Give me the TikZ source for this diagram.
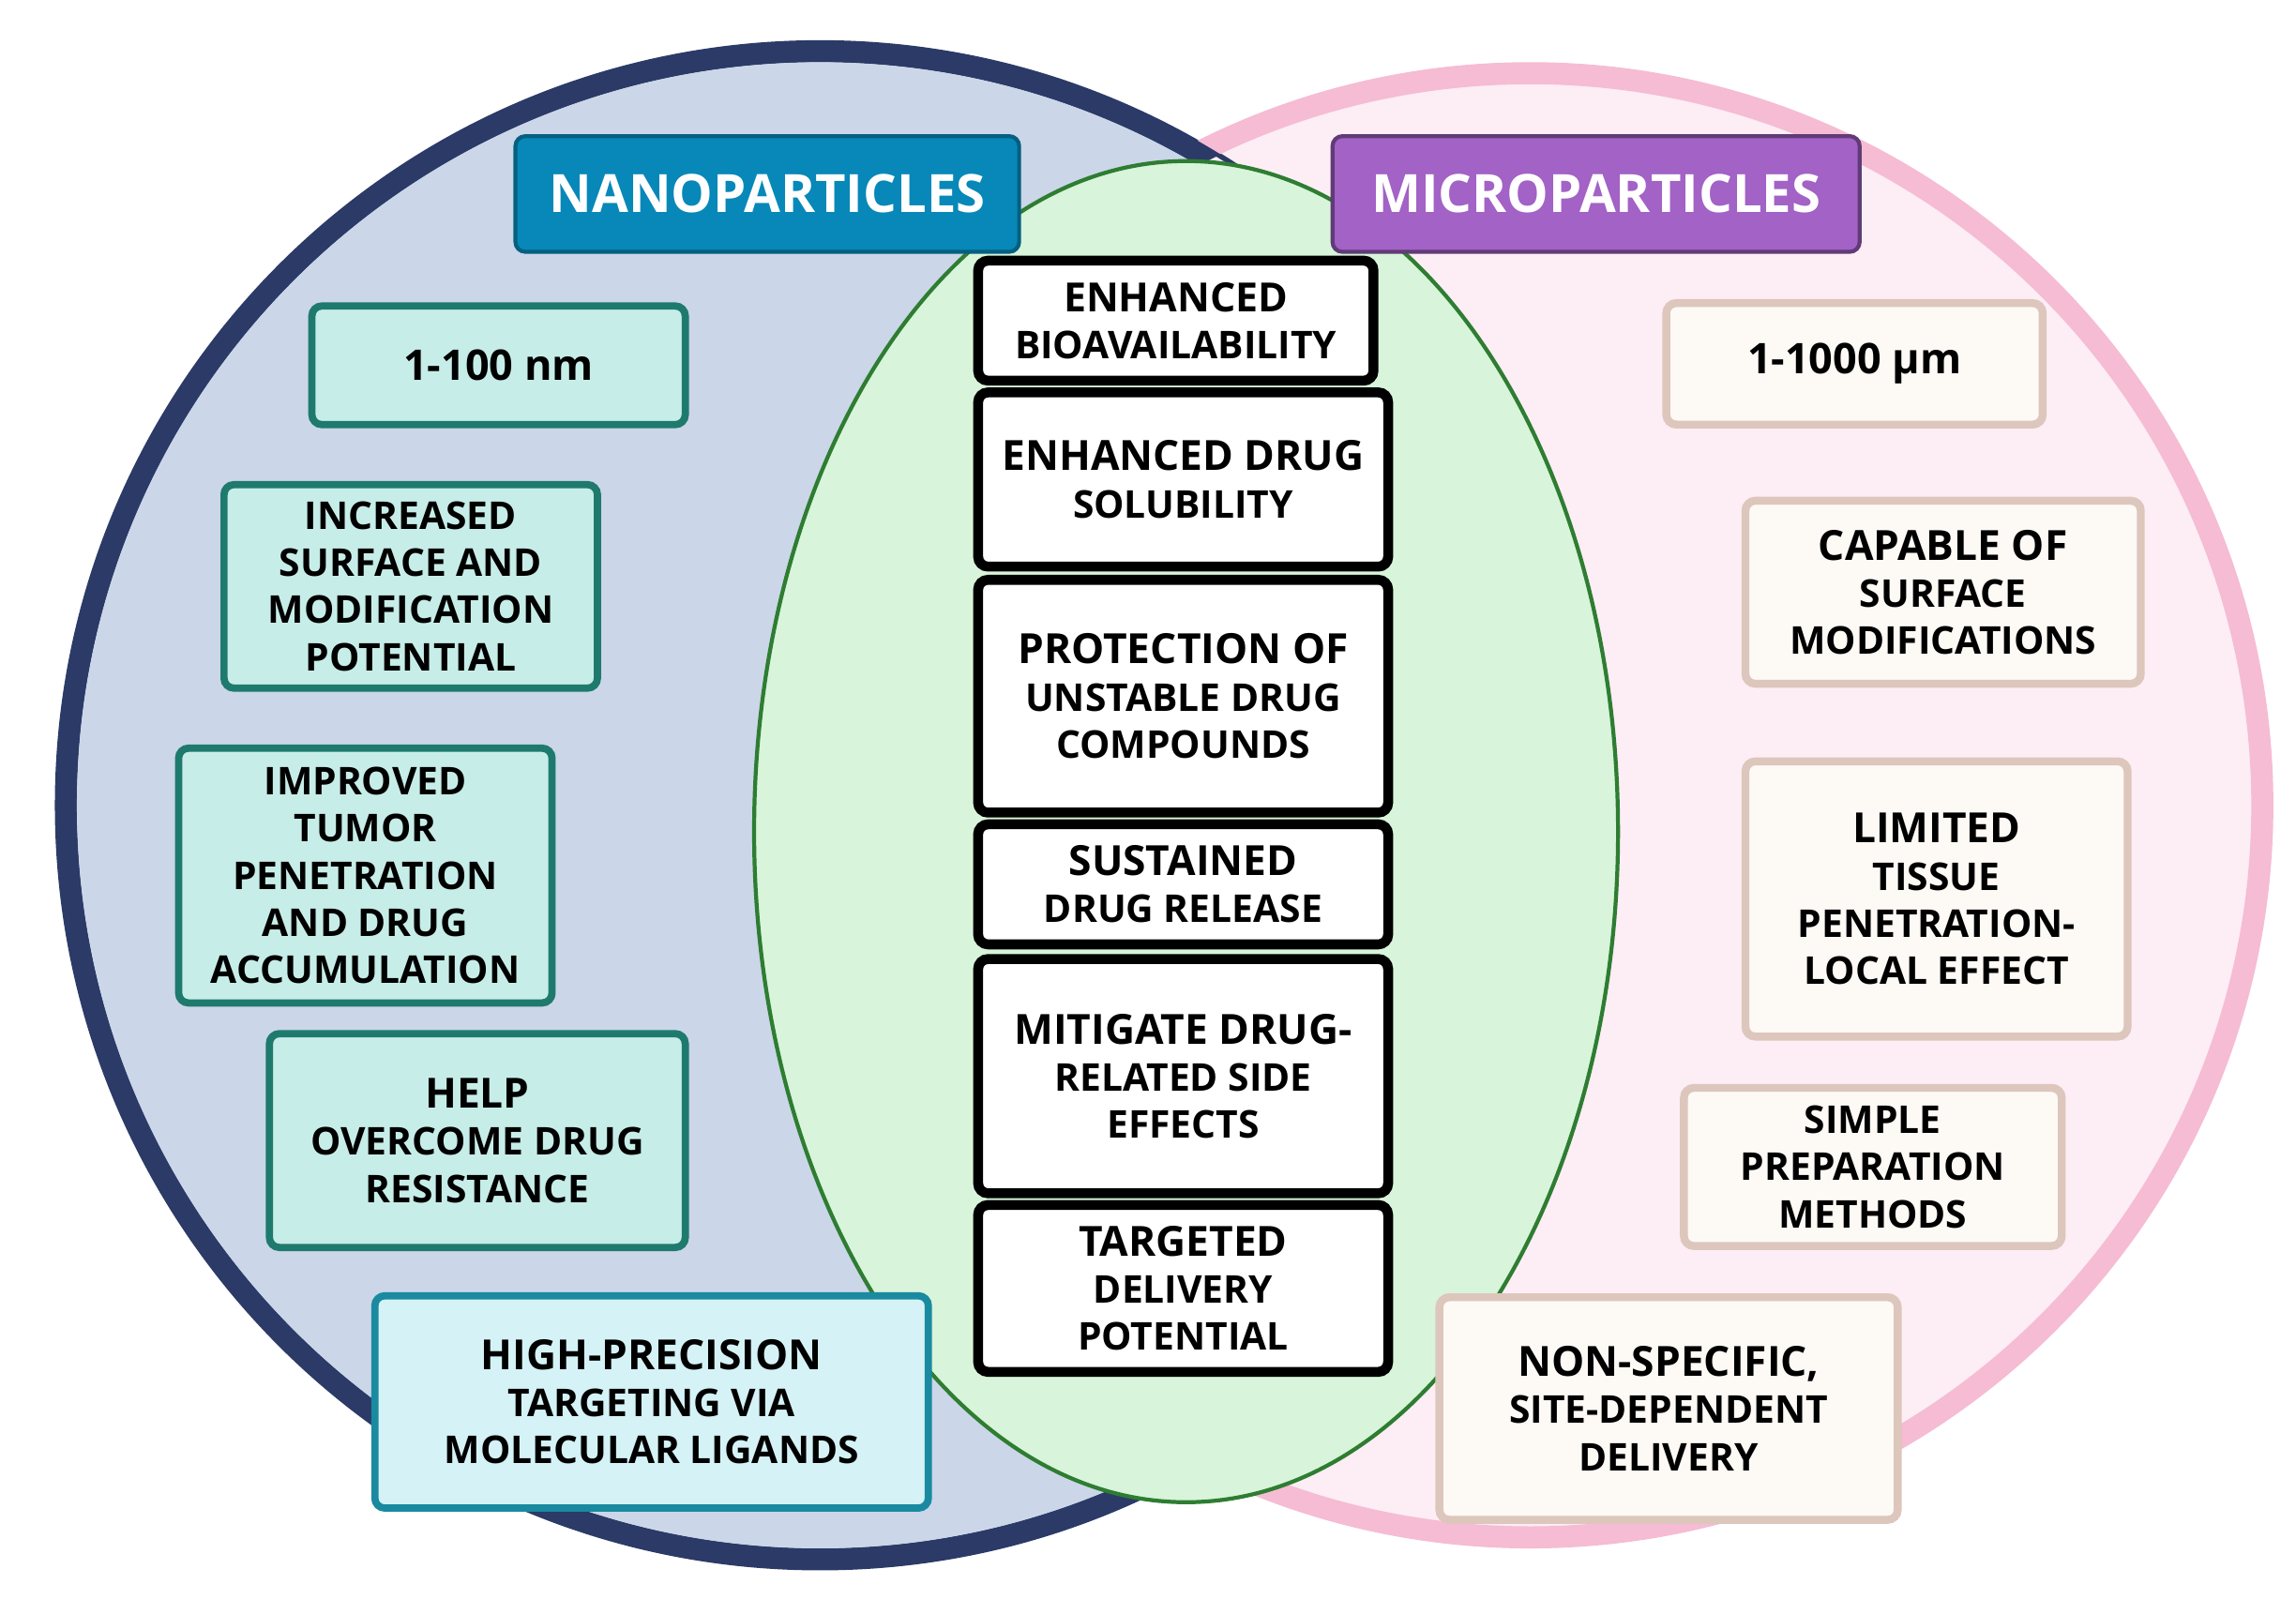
\documentclass[tikz,border=0pt]{standalone}
\usepackage{fontspec}
\setmainfont{Open Sans}
\usetikzlibrary{backgrounds}
\definecolor{navy}{HTML}{2B3A67}
\definecolor{nanofill}{HTML}{CBD6E8}
\definecolor{pinkline}{HTML}{F5BCD3}
\definecolor{pinkfill}{HTML}{FDEDF5}
\definecolor{greenfill}{HTML}{D8F4DA}
\definecolor{greenline}{HTML}{2E7D32}
\definecolor{teal}{HTML}{1F7A6E}
\definecolor{tealfill}{HTML}{C7EDE8}
\definecolor{cyanline}{HTML}{1A8AA0}
\definecolor{cyanfill}{HTML}{D5F2F6}
\definecolor{nanohead}{HTML}{0788B8}
\definecolor{microhead}{HTML}{A262C6}
\definecolor{beigeline}{HTML}{DDC6BC}
\definecolor{beigefill}{HTML}{FDF9F5}
\tikzset{
  box/.style={rounded corners=3pt,align=center,inner sep=0pt,
    font=\fontsize{11.6}{14.3}\selectfont\bfseries},
  nano/.style={box,draw=teal,fill=tealfill,line width=2.2pt},
  micro/.style={box,draw=beigeline,fill=beigefill,line width=2.4pt},
  core/.style={box,draw=black,fill=white,line width=3pt},
  head/.style={rounded corners=3pt,text=white,line width=1.2pt,
    font=\fontsize{16}{18}\selectfont\bfseries}
}
\newcommand{\boxat}[6]{% style, name, x1, y1, x2, y2
  \node[#1,minimum width={(#5-#3)*0.01561cm},minimum height={(#6-#4)*0.01561cm}]
    (#2) at ({(#3+#5)/2},{(#4+#6)/2})}
\begin{document}
\begin{tikzpicture}[x=0.01561cm,y=-0.01561cm]
\useasboundingbox (0,0) rectangle (1568,1101.8);
% circles
\fill[nanofill] (560,550) circle (515);
\fill[pinkfill] (1045,550) circle (500);
\draw[navy,line width=6.7pt] (560,550) circle (515);
\begin{scope}[even odd rule]
  \clip (560,550) circle (522) (0,0) rectangle (1568,1101.8);
  \draw[pinkline,line width=6.7pt] (1045,550) circle (500);
\end{scope}
\begin{scope}
  \clip (1045,550) circle (492);
  \fill[pinkfill] (560,550) circle (519);
\end{scope}
\fill[nanofill] (560,550) circle (507.5);
% overlap
\draw[greenline,fill=greenfill,line width=1.2pt] (810,568) ellipse (295 and 458);

% headers
\boxat{head,fill=nanohead,draw=nanohead!70!black}{nanoh}{352}{93}{696}{172} {NANOPARTICLES};
\boxat{head,fill=microhead,draw=microhead!60!black}{microh}{910}{93}{1270}{172} {MICROPARTICLES};

% nanoparticles
\boxat{nano}{n1}{213}{209}{468}{290} {\fontsize{12.8}{15}\selectfont 1-100 nm};
\boxat{nano}{n2}{153}{331}{408}{470} {INCREASED\\SURFACE AND\\MODIFICATION\\POTENTIAL};
\boxat{nano}{n3}{122}{511}{377}{685} {IMPROVED\\TUMOR\\PENETRATION\\AND DRUG\\ACCUMULATION};
\boxat{nano}{n4}{184}{706}{468}{852} {\fontsize{12.6}{16}\selectfont HELP\\OVERCOME DRUG\\RESISTANCE};
\boxat{nano,draw=cyanline,fill=cyanfill}{n5}{256}{885}{634}{1030} {\fontsize{12.6}{16}\selectfont HIGH-PRECISION\\TARGETING VIA\\MOLECULAR LIGANDS};

% shared
\boxat{core}{c1}{668}{178}{938}{260} {\fontsize{12.2}{16}\selectfont ENHANCED\\BIOAVAILABILITY};
\boxat{core}{c2}{668}{268}{948}{387} {\fontsize{12.6}{16}\selectfont ENHANCED DRUG\\SOLUBILITY};
\boxat{core}{c3}{668}{396}{948}{555} {\fontsize{12.6}{16}\selectfont PROTECTION OF\\UNSTABLE DRUG\\COMPOUNDS};
\boxat{core}{c4}{668}{563}{948}{645} {\fontsize{12.6}{16}\selectfont SUSTAINED\\DRUG RELEASE};
\boxat{core}{c5}{668}{655}{948}{815} {\fontsize{12.6}{16}\selectfont MITIGATE DRUG-\\RELATED SIDE\\EFFECTS};
\boxat{core}{c6}{668}{823}{948}{937} {\fontsize{12.6}{16}\selectfont TARGETED\\DELIVERY\\POTENTIAL};

% microparticles
\boxat{micro}{m1}{1138}{207}{1395}{290} {\fontsize{12.8}{15}\selectfont 1-1000 µm};
\boxat{micro}{m2}{1192}{342}{1462}{467} {\fontsize{12.6}{16}\selectfont CAPABLE OF\\SURFACE\\MODIFICATIONS};
\boxat{micro}{m3}{1192}{520}{1453}{708} {\fontsize{12.6}{16}\selectfont LIMITED\\TISSUE\\PENETRATION-\\LOCAL EFFECT};
\boxat{micro}{m4}{1150}{743}{1408}{851} {SIMPLE\\PREPARATION\\METHODS};
\boxat{micro}{m5}{983}{886}{1296}{1038} {\fontsize{12.6}{16}\selectfont NON-SPECIFIC,\\SITE-DEPENDENT\\DELIVERY};
\end{tikzpicture}
\end{document}
